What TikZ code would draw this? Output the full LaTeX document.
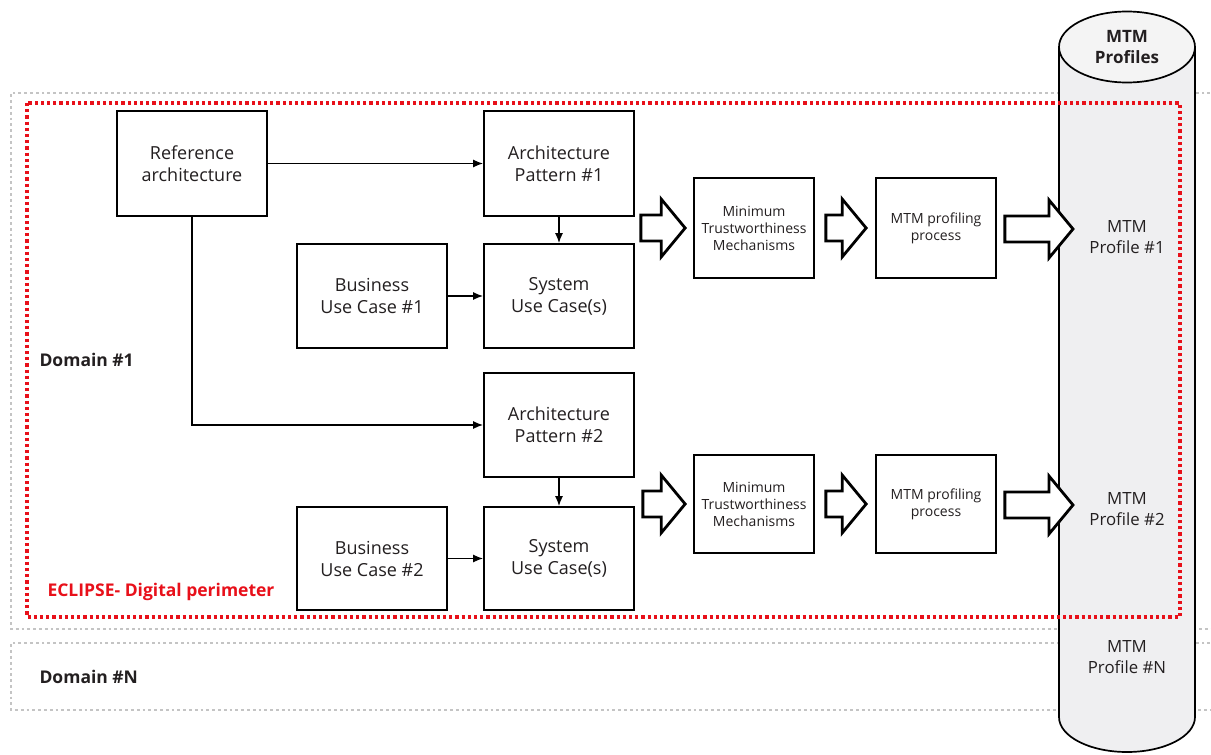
\documentclass[tikz,border=0pt]{standalone}
\usepackage{fontspec}
\setmainfont{Open Sans}
\usetikzlibrary{calc,arrows.meta}
\definecolor{txt}{HTML}{231F20}
\definecolor{eclred}{HTML}{E8101A}
\definecolor{domgray}{HTML}{C4C4C4}
\definecolor{cylbody}{HTML}{EFEFF1}
\definecolor{cyltop}{HTML}{F4F4F4}
\tikzset{
  box/.style={draw=black, line width=1.7pt, fill=white, text=txt, align=center,
    minimum width=150pt, minimum height=105pt, inner sep=2pt,
    font=\fontsize{18}{22}\selectfont},
  smallbox/.style={box, minimum width=120pt, minimum height=100pt,
    font=\fontsize{14}{17}\selectfont},
  conn/.style={draw=black, line width=1.5pt, -{Latex[length=10pt,width=8pt]}},
  barrow/.style={draw=black, line width=2.8pt, fill=white, line join=miter},
  domainbox/.style={draw=domgray, line width=2.8pt, dash pattern=on 2.8pt off 3pt},
  perimeter/.style={draw=eclred, line width=3.2pt, dash pattern=on 3.2pt off 3pt},
  cyltext/.style={text=txt, align=center, font=\fontsize{16.8}{21}\selectfont},
  domlabel/.style={text=txt, anchor=west, font=\bfseries\fontsize{17.5}{21}\selectfont},
}
\newcommand{\blockarrow}[2]{%
  \draw[barrow] let \p1=#1, \p2=#2 in
    (\x1,{\y2+13pt}) -- ({\x2-24pt},{\y2+13pt}) -- ({\x2-24pt},{\y2+29pt})
    -- (\x2,\y2) -- ({\x2-24pt},{\y2-29pt}) -- ({\x2-24pt},{\y2-13pt})
    -- (\x1,{\y2-13pt}) -- cycle;}
\begin{document}
\begin{tikzpicture}[x=1pt,y=-1pt]
\useasboundingbox (0,0) rectangle (1211,755);
% domain boxes
\draw[domainbox] (1216,93) -- (11,93) -- (11,629) -- (1216,629);
\draw[domainbox] (1216,643) -- (11,643) -- (11,710) -- (1216,710);
% cylinder
\draw[line width=1.7pt, fill=cylbody] (1059,47) -- (1059,717) arc[start angle=180, end angle=0, x radius=68, y radius=35] -- (1195,47) -- cycle;
\draw[line width=1.7pt, fill=cyltop] (1127,47) ellipse[x radius=68, y radius=35.5];
\node[cyltext, font=\bfseries\fontsize{17}{21}\selectfont] (profiles) at (1127,47) {MTM\\Profiles};
% perimeter
\draw[perimeter] (27,103) rectangle (1180,617);
% labels
\node[domlabel] (dom1) at (36,360) {Domain \#1};
\node[domlabel] (domN) at (36,677) {Domain \#N};
\node[domlabel, text=eclred] (ecl) at (44,592) {ECLIPSE- Digital perimeter};
% boxes
\node[box] (ref) at (192,163.5) {Reference\\architecture};
\node[box] (ap1) at (559,163.5) {Architecture\\Pattern \#1};
\node[box, minimum height=104pt] (buc1) at (372,296) {Business\\Use Case \#1};
\node[box, minimum height=104pt] (suc1) at (559,296) {System\\Use Case(s)};
\node[box, minimum height=104pt] (ap2) at (559,425) {Architecture\\Pattern \#2};
\node[box, minimum height=103pt] (buc2) at (372,558.5) {Business\\Use Case \#2};
\node[box, minimum height=103pt] (suc2) at (559,558.5) {System\\Use Case(s)};
\node[smallbox] (mtm1) at (754,228) {Minimum\\Trustworthiness\\Mechanisms};
\node[smallbox] (prof1) at (936,228) {MTM profiling\\process};
\node[smallbox, minimum height=98pt] (mtm2) at (754,504) {Minimum\\Trustworthiness\\Mechanisms};
\node[smallbox, minimum height=98pt] (prof2) at (936,504) {MTM profiling\\process};
% profile texts
\node[cyltext] (p1) at (1127,237) {MTM\\Profile \#1};
\node[cyltext] (p2) at (1127,509) {MTM\\Profile \#2};
\node[cyltext] (pN) at (1127,657) {MTM\\Profile \#N};
\coordinate (in1) at (1073,229);
\coordinate (in2) at (1073,505);
% connectors
\draw[conn] (ref.east) -- (ap1.west);
\draw[conn] (ref.south) |- (ap2.west);
\draw[conn] (ap1.south) -- (suc1.north);
\draw[conn] (buc1.east) -- (suc1.west);
\draw[conn] (ap2.south) -- (suc2.north);
\draw[conn] (buc2.east) -- (suc2.west);
% block arrows
\blockarrow{([xshift=6pt]suc1.east)}{([xshift=-8pt]mtm1.west)}
\blockarrow{([xshift=11pt]mtm1.east)}{([xshift=-9pt]prof1.west)}
\blockarrow{([xshift=8pt]prof1.east)}{(in1)}
\blockarrow{([xshift=8pt]suc2.east)}{([xshift=-8pt]mtm2.west)}
\blockarrow{([xshift=11pt]mtm2.east)}{([xshift=-9pt]prof2.west)}
\blockarrow{([xshift=8pt]prof2.east)}{(in2)}
\end{tikzpicture}
\end{document}
